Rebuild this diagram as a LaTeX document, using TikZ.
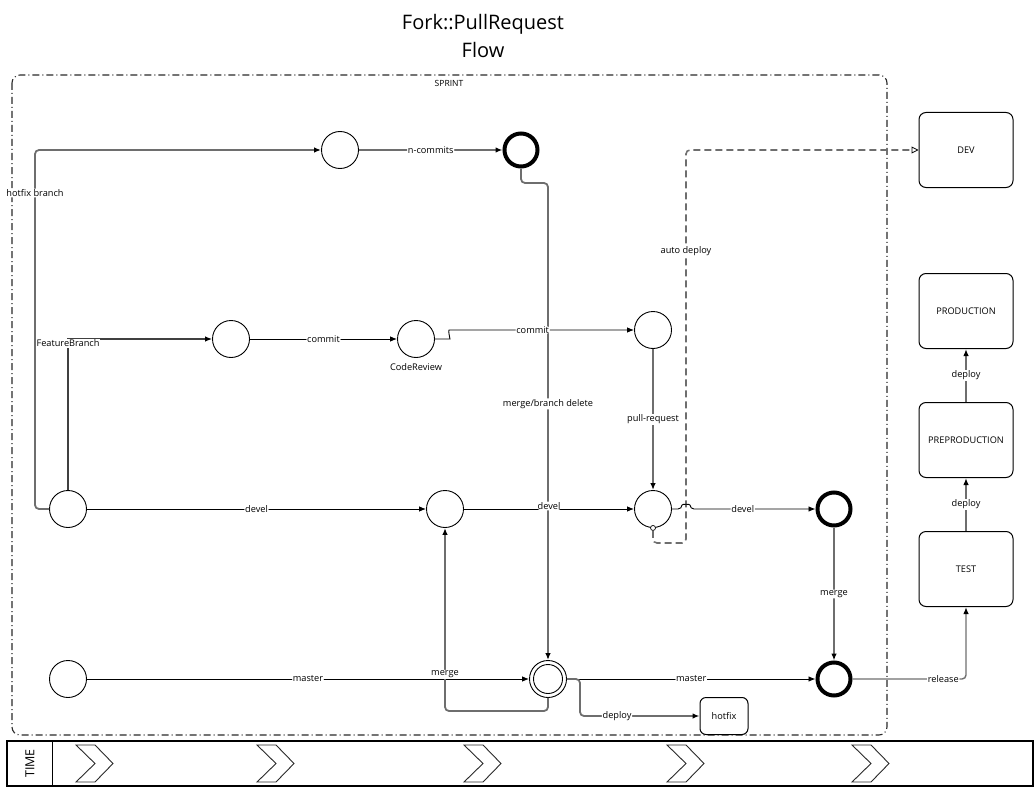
\documentclass[tikz,border=0pt]{standalone}
\usepackage{fontspec}
\setmainfont{Open Sans}
\usetikzlibrary{arrows.meta}
\definecolor{linegray}{HTML}{6E6E6E}
\definecolor{framegray}{HTML}{2A2A2A}
\begin{document}
\begin{tikzpicture}[x=1pt,y=-1pt,
  lab/.style={fill=white,inner sep=0.8pt,font=\fontsize{9.2}{10}\selectfont},
  state/.style={circle,draw=black,line width=0.9pt,minimum size=37pt,inner sep=0pt,fill=white},
  endstate/.style={circle,draw=black,line width=4pt,minimum size=33pt,inner sep=0pt,fill=white},
  env/.style={draw=black,line width=1pt,rounded corners=7pt,minimum width=94pt,minimum height=75pt,fill=white,font=\fontsize{9.2}{10}\selectfont},
  tip/.style={-{Latex[length=7pt,width=5.5pt,color=black]}},
  blk/.style={draw=black,line width=0.9pt,rounded corners=4pt,tip},
  gry/.style={draw=linegray,line width=1.8pt,rounded corners=4pt,tip},
  chevron/.style={draw=framegray,line width=0.9pt,fill=white},
]
\useasboundingbox (0,0) rectangle (1036,789);

% title
\node[align=center,font=\fontsize{20}{28}\selectfont] (title) at (483,36) {Fork::PullRequest\\Flow};

% sprint frame
\draw[framegray,line width=1.1pt,rounded corners=8pt,dash pattern=on 7pt off 3pt on 1pt off 3pt] (12,75) rectangle (887,735);
\node[font=\fontsize{8.5}{10}\selectfont] (sprint) at (449,83) {SPRINT};

% states
\node[state] (A1) at (340,150) {};
\node[endstate] (A2) at (521,150) {};
\node[state] (B1) at (231,339) {};
\node[state] (CR) at (416,339) {};
\node[font=\fontsize{9.2}{10}\selectfont] (crlab) at (416,367) {CodeReview};
\node[state] (B3) at (653,330) {};
\node[state] (C1) at (68,509) {};
\node[state] (C2) at (445,509) {};
\node[state] (C3) at (653,509) {};
\node[endstate] (C4) at (834,509) {};
\node[state] (D1) at (68,679) {};
\node[state] (D2) at (548,679) {};
\node[circle,draw=black,line width=0.9pt,minimum size=29pt,inner sep=0pt] (D2in) at (D2) {};
\node[endstate] (D3) at (834,679) {};

% environments
\node[env] (DEV) at (966,150) {DEV};
\node[env] (PROD) at (966,311) {PRODUCTION};
\node[env] (PREP) at (966,440) {PREPRODUCTION};
\node[env] (TEST) at (966,569) {TEST};
\node[env,minimum width=48pt,minimum height=37pt,rounded corners=6pt] (HF) at (724,716) {hotfix};

% branch delete after hotfix commits
\draw[gry] (A2.south) -- (521,183) -- (548,183) -- node[lab,pos=0.463]{merge/branch delete} (D2.north);

% hotfix branch
\draw[gry] (C1.west) -- (35,509) -- node[lab,pos=0.88]{hotfix branch} (35,150) -- (A1.west);
\draw[gry] (A1.east) -- node[lab]{n-commits} (A2.west);

% feature branch
\draw[draw=black!75,line width=1.1pt,tip] (C1.north) -- node[lab,pos=0.97]{FeatureBranch} (68,339) -- (B1.west);
\draw[blk] (B1.east) -- node[lab]{commit} (CR.west);
\draw[blk] (CR.east) -- (446,339) .. controls (450,339) and (448,330) .. (453,330) -- node[lab,pos=0.44]{commit} (B3.west);
\draw[gry] (B3.south) -- node[lab]{pull-request} (C3.north);

% auto deploy to DEV
\node[circle,draw=black,line width=0.7pt,fill=white,minimum size=5pt,inner sep=0pt] (AD) at (C3.south) {};
\draw[draw=linegray,line width=1.6pt,rounded corners=4pt,dash pattern=on 7pt off 4pt,-{Triangle[open,length=7pt,width=7pt,color=black,line width=0.8pt]}]
  (AD.south) -- (653,543) -- (686,543) -- node[lab,pos=0.743]{auto deploy} (686,150) -- (DEV.west);

% devel line
\draw[blk] (C1.east) -- node[lab]{devel} (C2.west);
\draw[blk] (C2.east) -- node[lab,yshift=3pt]{devel} (C3.west);
\draw[blk] (C3.east) -- (682,509) .. controls (682,504) and (690,504) .. (690,509) -- node[lab,pos=0.42]{devel} (C4.west);

% master line
\draw[blk] (D1.east) -- node[lab]{master} (D2.west);
\draw[blk] (D2.east) -- node[lab]{master} (D3.west);
\draw[gry] (D2.south) -- (548,711) -- (445,711) -- node[lab,pos=0.2]{merge} (C2.south);
\draw[gry] (D2.east) -- (580,679) -- (580,716) -- node[lab,pos=0.31]{deploy} (HF.west);
\draw[gry] (C4.south) -- node[lab]{merge} (D3.north);

% releases
\draw[gry,line width=1.4pt] (D3.east) -- node[lab,pos=0.8]{release} (966,679) -- (TEST.south);
\draw[gry,line width=1.4pt] (TEST.north) -- node[lab]{deploy} (PREP.south);
\draw[gry,line width=1.4pt] (PREP.north) -- node[lab]{deploy} (PROD.south);

% time bar
\draw[black,line width=1.3pt] (7,741) rectangle (1033,786);
\draw[black,line width=1pt] (52,741) -- (52,786);
\node[rotate=90,font=\fontsize{12.5}{14}\selectfont] (time) at (30,763.5) {TIME};
\foreach \x in {76,257,464,667,852}{
  \draw[chevron] (\x,745) -- (\x+19,745) -- (\x+37,763.5) -- (\x+19,782) -- (\x,782) -- (\x+19,763.5) -- cycle;
}
\end{tikzpicture}
\end{document}
